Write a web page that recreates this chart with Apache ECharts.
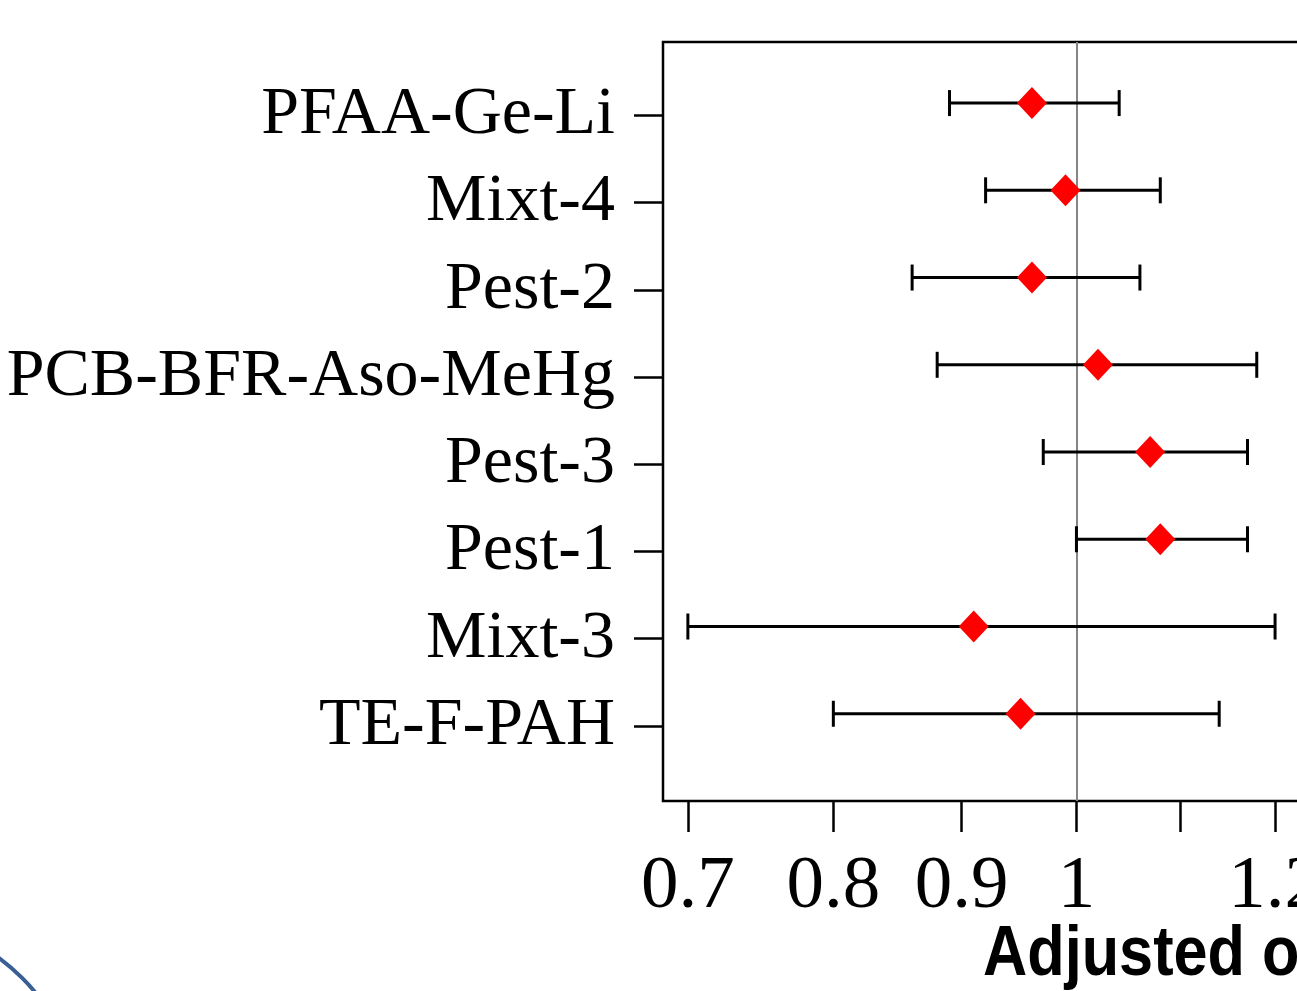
<!DOCTYPE html>
<html>
<head>
<meta charset="utf-8">
<script src="https://cdn.jsdelivr.net/npm/echarts@6/dist/echarts.min.js"></script>
<style>
  html, body { margin: 0; padding: 0; background: #fff; overflow: hidden; }
  #main { width: 1297px; height: 991px; }
</style>
</head>
<body>
<div id="main"></div>
<script>
// data (adjusted odds ratio with 95% CI)
var groups = ["PFAA-Ge-Li", "Mixt-4", "Pest-2", "PCB-BFR-Aso-MeHg", "Pest-3", "Pest-1", "Mixt-3", "TE-F-PAH"];
var oddsRatio = [0.96, 0.99, 0.96, 1.02, 1.07, 1.08, 0.91, 0.95];
var ciLower = [0.89, 0.92, 0.86, 0.88, 0.97, 1.00, 0.70, 0.80];
var ciUpper = [1.04, 1.08, 1.06, 1.18, 1.17, 1.17, 1.20, 1.14];
var xTicks = [0.7, 0.8, 0.9, 1, 1.1, 1.2, 1.3, 1.4];
var xLabels = [0.7, 0.8, 0.9, 1, 1.2, 1.4];

var n = groups.length;
// row position: first group on top
var rowPos = groups.map(function (g, i) { return n - i; });
// the row labels sit a little below the markers in the original
var labelShift = 0.14;
var yTicks = rowPos.map(function (p) { return p - labelShift; });

var myChart = echarts.init(document.getElementById("main"));

var option = {
  backgroundColor: "#fff",
  animation: false,
  grid: {
    left: 663,
    top: 42,
    width: 780,
    height: 759,
    outerBoundsMode: "none",
    containLabel: false,
    show: true,
    borderColor: "#000",
    borderWidth: 2.5,
    backgroundColor: "transparent"
  },
  xAxis: {
    type: "log",
    min: 0.6842,
    max: 1.4,
    axisLine: { show: false },
    splitLine: { show: false },
    axisTick: {
      show: true,
      customValues: xTicks,
      length: 31,
      lineStyle: { color: "#000", width: 2.5 }
    },
    axisLabel: {
      customValues: xLabels,
      margin: 49,
      fontFamily: "'Liberation Serif', 'Times New Roman', serif",
      fontSize: 75,
      color: "#000",
      formatter: function (v) { return String(+(+v).toFixed(2)); }
    }
  },
  yAxis: {
    type: "value",
    min: 0,
    max: 8.7,
    axisLine: { show: false },
    splitLine: { show: false },
    axisTick: {
      show: true,
      customValues: yTicks,
      length: 29,
      lineStyle: { color: "#000", width: 2.5 }
    },
    axisLabel: {
      customValues: yTicks,
      margin: 48,
      fontFamily: "'Liberation Serif', 'Times New Roman', serif",
      fontSize: 68,
      color: "#000",
      formatter: function (v) {
        return groups[n - Math.round(v + labelShift)];
      }
    }
  },
  graphic: [
    {
      // x axis title, drawn narrow like the original
      type: "text",
      x: 983,
      y: 921,
      scaleX: 0.875,
      silent: true,
      style: {
        text: "Adjusted odds ratio",
        fontFamily: "'Liberation Sans', Arial, sans-serif",
        fontWeight: "bold",
        fontSize: 70,
        fill: "#000",
        verticalAlign: "top"
      }
    },
    {
      type: "circle",
      shape: { cx: -125, cy: 1125, r: 208 },
      style: { fill: null, stroke: "#3a5f95", lineWidth: 4 },
      silent: true
    }
  ],
  series: [
    {
      // 95% CI whiskers
      type: "custom",
      data: groups.map(function (g, i) { return [ciLower[i], ciUpper[i], rowPos[i]]; }),
      encode: { x: [0, 1], y: 2 },
      renderItem: function (params, api) {
        var lo = api.coord([api.value(0), api.value(2)]);
        var hi = api.coord([api.value(1), api.value(2)]);
        var h = 13;
        var st = { stroke: "#000", lineWidth: 3 };
        return {
          type: "group",
          children: [
            { type: "line", shape: { x1: lo[0], y1: lo[1], x2: hi[0], y2: hi[1] }, style: st },
            { type: "line", shape: { x1: lo[0], y1: lo[1] - h, x2: lo[0], y2: lo[1] + h }, style: st },
            { type: "line", shape: { x1: hi[0], y1: hi[1] - h, x2: hi[0], y2: hi[1] + h }, style: st }
          ]
        };
      },
      z: 2
    },
    {
      // point estimates
      type: "scatter",
      data: groups.map(function (g, i) { return [oddsRatio[i], rowPos[i]]; }),
      symbol: "diamond",
      symbolSize: [30, 32],
      itemStyle: { color: "#ff0000", opacity: 1 },
      z: 3,
      markLine: {
        silent: true,
        symbol: "none",
        label: { show: false },
        lineStyle: { color: "#858585", width: 2, type: "solid" },
        data: [{ xAxis: 1 }],
        z: 1
      }
    }
  ]
};

myChart.setOption(option);
</script>
</body>
</html>
